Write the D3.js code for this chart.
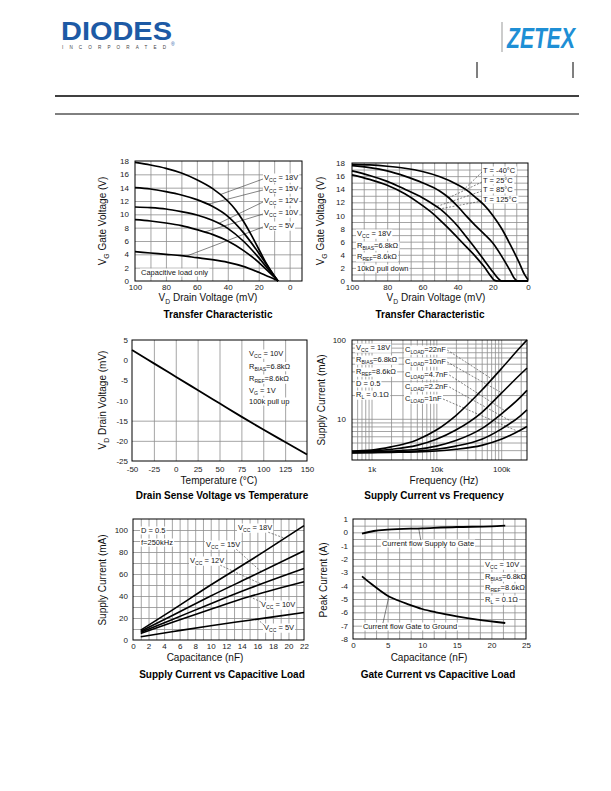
<!DOCTYPE html>
<html><head><meta charset="utf-8">
<script src="https://cdn.jsdelivr.net/npm/d3@7"></script>
<style>body{margin:0;background:#fff}svg{display:block}</style>
</head><body>
<script>
// ---------- DATA ----------
// Transfer characteristic vs VCC  ([drain mV, gate V])
const tcVccLabels = ["V_{CC} = 18V","V_{CC} = 15V","V_{CC} = 12V","V_{CC} = 10V","V_{CC} = 5V"];
const tcVcc18 = [[100,17.8],[90,17.4],[80,16.9],[70,16.2],[60,15.2],[50,13.9],[40,12.0],[35,10.7],[30,9.0],[25,7.0],[20,4.8],[15,2.6],[10,0.8],[7.5,0]];
const tcVcc15 = [[100,14],[90,13.8],[80,13.4],[70,12.9],[60,12.2],[50,11.2],[40,9.7],[30,7.3],[20,4.2],[15,2.5],[10,0.8],[7.5,0]];
const tcVcc12 = [[100,11.1],[90,11.0],[80,10.8],[70,10.4],[60,9.9],[50,9.1],[40,7.9],[30,6.0],[20,3.5],[15,2.1],[10,0.7],[7.5,0]];
const tcVcc10 = [[100,9.2],[90,9.0],[80,8.7],[70,8.3],[60,7.7],[50,7.0],[40,6.0],[30,4.6],[20,2.8],[15,1.7],[10,0.6],[7.5,0]];
const tcVcc5 = [[100,4.4],[90,4.2],[80,4.0],[70,3.8],[60,3.5],[50,3.2],[40,2.8],[30,2.2],[20,1.3],[15,0.8],[10,0.3],[7.5,0]];
const tcVccLeaderAt = [45,53,46,55,67];
const tcXTicks = [100,80,60,40,20,0];
const tcYTicks = [0,2,4,6,8,10,12,14,16,18];

// Transfer characteristic vs temperature
const tcTempLabels = ["T = -40°C","T = 25°C","T = 85°C","T = 125°C"];
const tcTm40 = [[100,17.8],[90,17.7],[80,17.5],[70,17.2],[60,16.7],[50,15.9],[40,14.7],[35,13.9],[30,12.8],[25,11.6],[20,10.0],[15,8.0],[10,5.5],[5,2.8],[2,1.0],[0,0.2]];
const tcT25 = [[100,17.6],[90,17.3],[80,16.8],[70,16.0],[60,15.0],[50,13.7],[45,12.7],[40,11.4],[35,9.9],[30,8.5],[25,7.2],[20,5.8],[15,3.8],[10,1.5],[8,0.5],[6,0],[0,0]];
const tcT85 = [[100,16.8],[90,16.1],[80,15.2],[70,14.0],[60,12.7],[55,11.9],[50,11.0],[45,9.8],[40,8.4],[35,6.7],[30,5.0],[25,3.2],[20,1.4],[17,0.4],[15,0],[0,0]];
const tcT125 = [[100,16.2],[90,15.5],[80,14.6],[70,13.3],[62.5,12.0],[55,10.5],[50,9.3],[45,8.0],[40,6.6],[35,5.2],[30,3.8],[25,2.2],[21,0.7],[19,0.1],[17,0],[0,0]];
const tcTempLeaderAt = [36,45,52,56];
const tcTempNotes = ["V_{CC} = 18V","R_{BIAS}=6.8kΩ","R_{REF}=8.6kΩ","10kΩ pull down"];

// Drain sense voltage vs temperature
const dsTemp = [-50,-25,0,25,50,75,100,125,150];
const dsVd = [2.5,-0.8,-4.1,-7.4,-10.7,-14.0,-17.2,-20.3,-23.4];
const dsXTicks = [-50,-25,0,25,50,75,100,125,150];
const dsYTicks = [5,0,-5,-10,-15,-20,-25];
const dsNotes = ["V_{CC} = 10V","R_{BIAS}=6.8kΩ","R_{REF}=8.6kΩ","V_{G} = 1V","100k pull up"];

// Supply current vs frequency
const scFreq = [500,1000,2000,5000,10000,20000,50000,100000,200000,250000];
const scC22 = [3.9,4.0,4.4,5.4,7.2,11,23,43,82,100];
const scC10 = [3.8,3.9,4.1,4.6,5.5,7.2,12,21,37,44];
const scC47 = [3.7,3.8,3.9,4.1,4.5,5.3,7.5,11.5,19,23];
const scC22b = [3.7,3.75,3.8,3.9,4.1,4.5,5.5,7.4,11,13];
const scC1 = [3.7,3.72,3.75,3.8,3.9,4.1,4.6,5.5,7.2,8];
const scLabels = ["C_{LOAD}=22nF","C_{LOAD}=10nF","C_{LOAD}=4.7nF","C_{LOAD}=2.2nF","C_{LOAD}=1nF"];
const scLeaderAt = [72000,102000,114000,146000,181000];
const scNotes = ["V_{CC} = 18V","R_{BIAS}=6.8kΩ","R_{REF}=8.6kΩ","D = 0.5","R_{L} = 0.1Ω"];
const scXTicks = [1000,10000,100000];
const scXTickLabels = ["1k","10k","100k"];
const scYTicks = [10,100];

// Supply current vs capacitive load
const clCap = [1,5,10,15,22];
const clV18 = [9,27,50,72,104];
const clV15 = [8,22,40,57,81];
const clV12 = [7,18.5,33,47,65];
const clV10 = [6,16,28,39.5,53];
const clV5 = [3,7.5,13,18,25];
const clLabels = ["V_{CC} = 18V","V_{CC} = 15V","V_{CC} = 12V","V_{CC} = 10V","V_{CC} = 5V"];
const clLeaderAt = [19.5,16.5,16.5,15,16];
const clNotes = ["D = 0.5","f=250kHz"];
const clXTicks = [0,2,4,6,8,10,12,14,16,18,20,22];
const clYTicks = [0,20,40,60,80,100];

// Gate current vs capacitive load
const gcSupCap = [1.3,3,5,10,15,20,22];
const gcSup = [-0.1,0.1,0.2,0.3,0.4,0.45,0.5];
const gcGndCap = [1.3,2,3,4,5,6,8,10,12,15,18,22];
const gcGnd = [-3.3,-3.6,-4.0,-4.4,-4.75,-5.0,-5.4,-5.75,-6.0,-6.3,-6.55,-6.8];
const gcNotes = ["V_{CC} = 10V","R_{BIAS}=6.8kΩ","R_{REF}=8.6kΩ","R_{L} = 0.1Ω"];
const gcXTicks = [0,5,10,15,20,25];
const gcYTicks = [1,0,-1,-2,-3,-4,-5,-6,-7,-8];

// ---------- DRAWING ----------
const FONT = '"Liberation Sans", Arial, Helvetica, sans-serif';
const svg = d3.select('body').append('svg').attr('width',611).attr('height',791)
  .attr('font-family',FONT);

function rich(t, s, fs){
  const sub = fs*0.3; let shifted=false;
  s.split(/(_\{[^}]*\})/).forEach(p=>{
    if(!p) return;
    if(p.startsWith('_{')){
      t.append('tspan').attr('font-size',fs*0.68).attr('dy',shifted?0:sub).text(p.slice(2,-1));
      shifted=true;
    } else {
      t.append('tspan').attr('dy',shifted?-sub:0).text(p);
      shifted=false;
    }
  });
  return t;
}
function note(g,x,y,s,opt={}){
  const fs=opt.fs||7.5;
  const grp=g.append('g');
  const t=grp.append('text').attr('x',x).attr('y',y).attr('font-size',fs)
    .attr('text-anchor',opt.anchor||'start').attr('fill','#151515');
  rich(t,s,fs);
  const b=t.node().getBBox();
  if(opt.bg!==false){
    grp.insert('rect','text').attr('x',b.x-1).attr('y',b.y+0.5).attr('width',b.width+2).attr('height',b.height-1).attr('fill','#fff');
  }
  return b;
}
function leader(g,x1,y1,x2,y2,dash){
  g.append('line').attr('x1',x1).attr('y1',y1).attr('x2',x2).attr('y2',y2)
    .attr('stroke','#333').attr('stroke-width',0.6).attr('stroke-dasharray',dash?'2,1.5':null);
}
function pointAt(data,xs,ys,xv){
  const px=xs(xv);
  const pts=data.map(d=>[xs(d[0]),ys(d[1])]);
  for(let i=0;i<pts.length-1;i++){
    const a=pts[i],b=pts[i+1];
    if((px>=a[0]&&px<=b[0])||(px<=a[0]&&px>=b[0])){
      const t=(px-a[0])/((b[0]-a[0])||1);
      return [px,a[1]+t*(b[1]-a[1])];
    }
  }
  return pts[pts.length-1];
}
function panel(xs,ys,o){
  const g=svg.append('g');
  const [L,R]=d3.extent(xs.range()), [T,B]=d3.extent(ys.range());
  const gridStyle=s=>{s.select('.domain').remove();s.selectAll('line').attr('stroke','#8e8e8e').attr('stroke-width',0.8);};
  g.append('g').attr('transform',`translate(0,${B})`)
    .call(d3.axisBottom(xs).tickValues(o.gx).tickSize(-(B-T)).tickFormat(()=>''))
    .call(gridStyle);
  g.append('g').attr('transform',`translate(${L},0)`)
    .call(d3.axisLeft(ys).tickValues(o.gy).tickSize(-(R-L)).tickFormat(()=>''))
    .call(gridStyle);
  const lab=s=>{s.select('.domain').remove();s.attr('font-size',8).attr('font-family',FONT);s.selectAll('text').attr('fill','#222');};
  g.append('g').attr('transform',`translate(0,${B})`)
    .call(d3.axisBottom(xs).tickValues(o.tx).tickSize(0).tickPadding(o.padX).tickFormat(o.fx||(d=>String(d))))
    .call(lab);
  g.append('g').attr('transform',`translate(${L},0)`)
    .call(d3.axisLeft(ys).tickValues(o.ty).tickSize(0).tickPadding(o.padY).tickFormat(o.fy||(d=>String(d))))
    .call(lab);
  rich(g.append('text').attr('transform',`translate(${o.yt[0]},${o.yt[1]}) rotate(-90)`)
    .attr('text-anchor','middle').attr('dy','0.35em').attr('font-size',10).attr('fill','#111'),o.yTitle,10);
  rich(g.append('text').attr('x',o.xt[0]).attr('y',o.xt[1]).attr('text-anchor','middle')
    .attr('font-size',10).attr('fill','#111'),o.xTitle,10);
  g.append('text').attr('x',o.tt[0]).attr('y',o.tt[1]).attr('text-anchor','middle')
    .attr('font-size',10).attr('font-weight','bold').attr('fill','#000').text(o.title);
  const top=g.append('g');
  return {g:top,L,R,T,B,frame:()=>g.append('rect').attr('x',L).attr('y',T).attr('width',R-L).attr('height',B-T)
    .attr('fill','none').attr('stroke','#000').attr('stroke-width',1)};
}
function curve(g,xs,ys,data,w){
  g.append('path').attr('d',d3.line().x(d=>xs(d[0])).y(d=>ys(d[1])).curve(d3.curveMonotoneX)(data))
    .attr('fill','none').attr('stroke','#000').attr('stroke-width',w||1.6).attr('stroke-linejoin','round');
}

// ----- Header -----
svg.append('text').attr('x',61).attr('y',40).attr('font-weight','bold').attr('font-size',25)
  .attr('fill','#1d5aa5').attr('textLength',111).attr('lengthAdjust','spacingAndGlyphs').text('DIODES');
svg.append('text').attr('x',62).attr('y',49).attr('font-size',4.6).attr('fill','#444')
  .attr('textLength',104).attr('lengthAdjust','spacing').text('INCORPORATED');
svg.append('text').attr('x',171).attr('y',46).attr('font-size',5).attr('fill','#1d5aa5').text('®');
svg.append('line').attr('x1',502).attr('x2',502).attr('y1',22).attr('y2',52).attr('stroke','#999');
svg.append('text').attr('x',507).attr('y',48).attr('font-weight','bold').attr('font-style','italic')
  .attr('font-size',29).attr('fill','#1e8fd5').attr('textLength',68).attr('lengthAdjust','spacingAndGlyphs').text('ZETEX');
[477,573].forEach(x=>svg.append('line').attr('x1',x).attr('x2',x).attr('y1',62).attr('y2',78).attr('stroke','#000'));
svg.append('line').attr('x1',55).attr('x2',579).attr('y1',96).attr('y2',96).attr('stroke','#000').attr('stroke-width',1.5);
svg.append('line').attr('x1',55).attr('x2',579).attr('y1',114).attr('y2',114).attr('stroke','#000').attr('stroke-width',1);

// ----- Chart 1: Transfer characteristic (VCC) -----
{
  const xs=d3.scaleLinear().domain([100,-8]).range([135,302]);
  const ys=d3.scaleLinear().domain([0,18]).range([281,161]);
  const p=panel(xs,ys,{gx:[90,80,70,60,50,40,30,20,10,0],gy:[2,4,6,8,10,12,14,16],tx:tcXTicks,ty:tcYTicks,padX:3,padY:6,
    yTitle:'V_{G} Gate Voltage (V)',yt:[106,221],xTitle:'V_{D} Drain Voltage (mV)',xt:[208,301],title:'Transfer Characteristic',tt:[218,318]});
  note(p.g,141,275,'Capacitive load only');
  const series=[tcVcc18,tcVcc15,tcVcc12,tcVcc10,tcVcc5];
  const ly=[180,191,203,215,228];
  series.forEach((s,i)=>{
    const b=note(p.g,264,ly[i],tcVccLabels[i]);
    const e=pointAt(s,xs,ys,tcVccLeaderAt[i]);
    leader(p.g,b.x-1,ly[i]-1,e[0],e[1],false);
  });
  series.forEach(s=>curve(p.g,xs,ys,s,1.7));
  p.frame();
}

// ----- Chart 2: Transfer characteristic (temperature) -----
{
  const xs=d3.scaleLinear().domain([100,0]).range([352,528]);
  const ys=d3.scaleLinear().domain([0,18]).range([281,163]);
  const gx=d3.range(1,15).map(i=>100-i*100/15);
  const p=panel(xs,ys,{gx,gy:d3.range(1,18),tx:tcXTicks,ty:tcYTicks,padX:3,padY:7,
    yTitle:'V_{G} Gate Voltage (V)',yt:[324,221],xTitle:'V_{D} Drain Voltage (mV)',xt:[436,301],title:'Transfer Characteristic',tt:[430,318]});
  const ny=[236,248,259,271];
  tcTempNotes.forEach((s,i)=>note(p.g,357,ny[i],s));
  const series=[tcTm40,tcT25,tcT85,tcT125];
  const ly=[173,183,192,202];
  series.forEach((s,i)=>{
    const b=note(p.g,483,ly[i],tcTempLabels[i]);
    const e=pointAt(s,xs,ys,tcTempLeaderAt[i]);
    leader(p.g,b.x-1,ly[i]-1,e[0],e[1],true);
  });
  series.forEach(s=>curve(p.g,xs,ys,s,1.7));
  p.frame();
}

// ----- Chart 3: Drain sense voltage vs temperature -----
{
  const xs=d3.scaleLinear().domain([-50,150]).range([132,307]);
  const ys=d3.scaleLinear().domain([-25,5]).range([461,340]);
  const p=panel(xs,ys,{gx:[-25,0,25,50,75,100,125],gy:[-15,-20],tx:dsXTicks,ty:dsYTicks,padX:5,padY:4,
    yTitle:'V_{D} Drain Voltage (mV)',yt:[106,400],xTitle:'Temperature (°C)',xt:[219,484],title:'Drain Sense Voltage vs Temperature',tt:[222,499]});
  const ny=[356,368.5,381,393,404];
  dsNotes.forEach((s,i)=>note(p.g,249,ny[i],s));
  curve(p.g,xs,ys,d3.zip(dsTemp,dsVd),1.8);
  p.frame();
}

// ----- Chart 4: Supply current vs frequency -----
{
  const xs=d3.scaleLog().domain([500,250000]).range([352,527]);
  const ys=d3.scaleLog().domain([3,100]).range([460,340]);
  const gx=[600,700,800,900,1000,2000,3000,4000,5000,6000,7000,8000,9000,10000,20000,30000,40000,50000,60000,70000,80000,90000,100000,200000];
  const gy=[4,5,6,7,8,9,10,20,30,40,50,60,70,80,90];
  const p=panel(xs,ys,{gx,gy,tx:scXTicks,ty:scYTicks,padX:6,padY:6,fx:d=>scXTickLabels[scXTicks.indexOf(d)],
    yTitle:'Supply Current (mA)',yt:[325,400],xTitle:'Frequency (Hz)',xt:[444,484],title:'Supply Current vs Frequency',tt:[434,499]});
  const ny=[350,362,374,386,397];
  scNotes.forEach((s,i)=>note(p.g,356,ny[i],s));
  const series=[scC22,scC10,scC47,scC22b,scC1].map(v=>d3.zip(scFreq,v));
  const ly=[352,364,377,389,401];
  series.forEach((s,i)=>{
    const b=note(p.g,405,ly[i],scLabels[i]);
    const e=pointAt(s,xs,ys,scLeaderAt[i]);
    leader(p.g,b.x+b.width+1,ly[i]-2,e[0],e[1],true);
  });
  series.forEach(s=>curve(p.g,xs,ys,s,1.6));
  p.frame();
}

// ----- Chart 5: Supply current vs capacitive load -----
{
  const xs=d3.scaleLinear().domain([0,22]).range([133,304]);
  const ys=d3.scaleLinear().domain([0,110]).range([640,519]);
  const p=panel(xs,ys,{gx:d3.range(1,22),gy:d3.range(10,110,10),tx:clXTicks,ty:clYTicks,padX:3,padY:5,
    yTitle:'Supply Current (mA)',yt:[106,580],xTitle:'Capacitance (nF)',xt:[205,661],title:'Supply Current vs Capacitive Load',tt:[222,678]});
  note(p.g,141,533,clNotes[0]);
  note(p.g,141,545,clNotes[1]);
  const series=[clV18,clV15,clV12,clV10,clV5].map(v=>d3.zip(clCap,v));
  const lp=[[238,530],[206,547],[190,563],[261,607],[264,630]];
  series.forEach((s,i)=>{
    const b=note(p.g,lp[i][0],lp[i][1],clLabels[i]);
    const e=pointAt(s,xs,ys,clLeaderAt[i]);
    if(i<3) leader(p.g,b.x+b.width-4,b.y+b.height-1,e[0],e[1],true);
    else leader(p.g,b.x,b.y+2,e[0],e[1],true);
  });
  series.forEach(s=>curve(p.g,xs,ys,s,1.6));
  p.frame();
}

// ----- Chart 6: Gate current vs capacitive load -----
{
  const xs=d3.scaleLinear().domain([0,25]).range([353,526]);
  const ys=d3.scaleLinear().domain([-8,1]).range([639,519]);
  const gx=d3.range(1,15).map(i=>i*25/15);
  const gy=d3.range(-7.5,1,0.5);
  const p=panel(xs,ys,{gx,gy,tx:gcXTicks,ty:gcYTicks,padX:3.5,padY:5,
    yTitle:'Peak Current (A)',yt:[327,580],xTitle:'Capacitance (nF)',xt:[429,661],title:'Gate Current vs Capacitive Load',tt:[438,678]});
  const ny=[567,579,590,602];
  gcNotes.forEach((s,i)=>note(p.g,485,ny[i],s));
  const sup=d3.zip(gcSupCap,gcSup), gnd=d3.zip(gcGndCap,gcGnd);
  const b1=note(p.g,428,546,'Current flow Supply to Gate',{anchor:'middle'});
  const e1=pointAt(sup,xs,ys,9.5);
  leader(p.g,e1[0],e1[1],e1[0]+2,b1.y+1,false);
  const b2=note(p.g,410,629,'Current flow Gate to Ground',{anchor:'middle'});
  const e2=pointAt(gnd,xs,ys,5.2);
  leader(p.g,e2[0],e2[1],e2[0]-6,b2.y+1,false);
  curve(p.g,xs,ys,sup,1.8);
  curve(p.g,xs,ys,gnd,1.8);
  p.frame();
}
</script>
</body></html>
